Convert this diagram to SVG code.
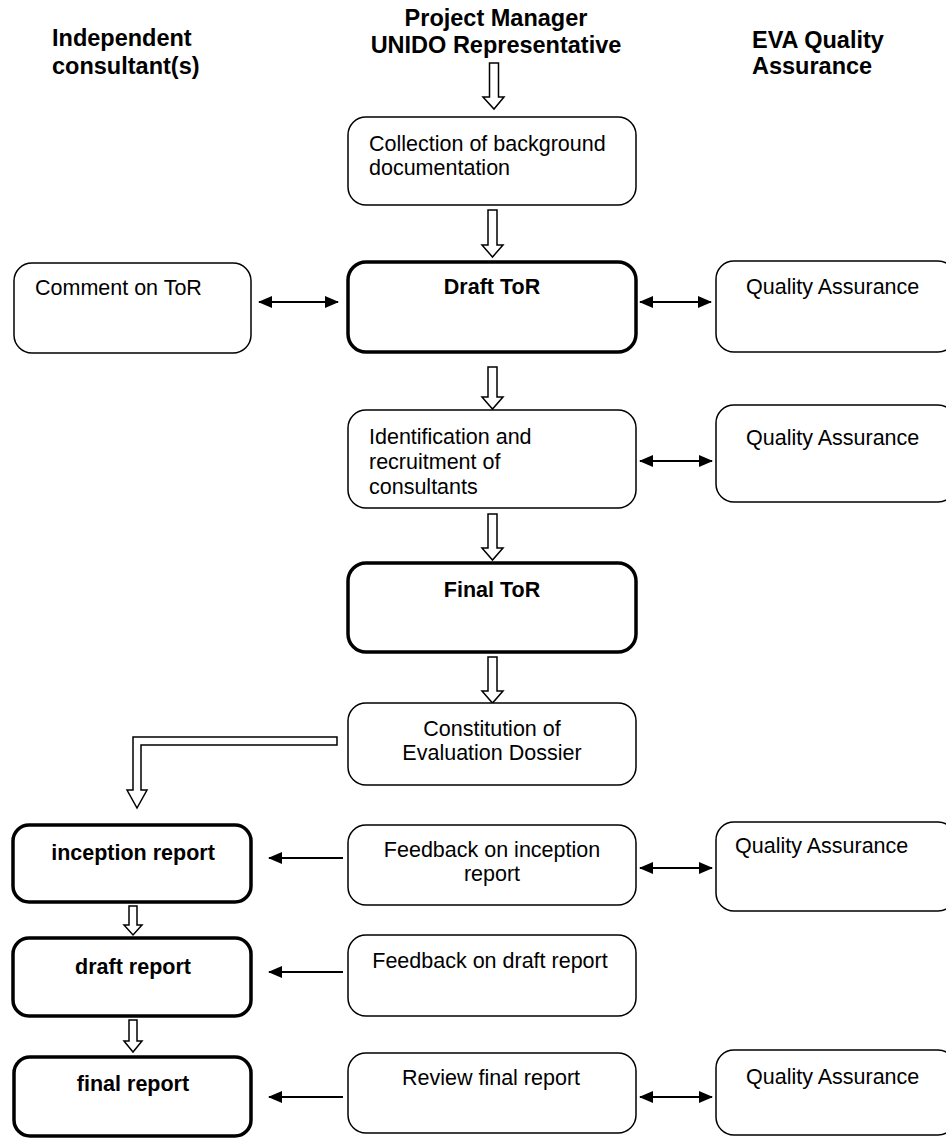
<svg xmlns="http://www.w3.org/2000/svg" width="946" height="1138" viewBox="0 0 946 1138">
<defs>
<style>
text{font-family:"Liberation Sans",Arial,sans-serif;fill:#000}
.h{font-size:23.5px;font-weight:bold}
.t{font-size:21.5px}
.b{font-size:21.5px;font-weight:bold}
.c{text-anchor:middle}
.box{fill:#fff;stroke:#000;stroke-width:1.5}
.thick{fill:#fff;stroke:#000;stroke-width:3.5}
.hol{fill:#fff;stroke:#000;stroke-width:1.5;stroke-linejoin:miter}
.ln{stroke:#000;stroke-width:2;fill:none}
</style>
<marker id="ah" viewBox="0 0 14 12" refX="13" refY="6" markerWidth="14" markerHeight="12" orient="auto-start-reverse" markerUnits="userSpaceOnUse">
<path d="M0,0 L14,6 L0,12 z" fill="#000"/>
</marker>
</defs>
<rect width="946" height="1138" fill="#fff"/>
<g id="headers">
<text class="h" x="52" y="46">Independent</text>
<text class="h" x="52" y="74">consultant(s)</text>
<text class="h c" x="496" y="26">Project Manager</text>
<text class="h c" x="496" y="53">UNIDO Representative</text>
<text class="h" x="752" y="48">EVA Quality</text>
<text class="h" x="752" y="74">Assurance</text>
</g>
<g id="connectors">
<polygon class="hol" points="489.5,63 498.5,63 498.5,97 504,97 494,109 483,97 489.5,97"/>
<polygon class="hol" points="488,210 497,210 497,245 503,245 492.5,257 482,245 488,245"/>
<polygon class="hol" points="488,367 497,367 497,397 503,397 492.5,409 482,397 488,397"/>
<polygon class="hol" points="488,514 497,514 497,548 503,548 492.5,560 482,548 488,548"/>
<polygon class="hol" points="488,657 497,657 497,691 503,691 492.5,703 482,691 488,691"/>
<polygon class="hol" points="337,737 337,745 141,745 141,790 147,790 137,808 127,790 133,790 133,737"/>
<polygon class="hol" points="129,906 137,906 137,925 142,925 133,935 124,925 129,925"/>
<polygon class="hol" points="129,1020 137,1020 137,1041 142,1041 133,1052 124,1041 129,1041"/>
<line class="ln" x1="259" y1="302" x2="338" y2="302" marker-start="url(#ah)" marker-end="url(#ah)"/>
<line class="ln" x1="640" y1="302" x2="711" y2="302" marker-start="url(#ah)" marker-end="url(#ah)"/>
<line class="ln" x1="640" y1="461" x2="712" y2="461" marker-start="url(#ah)" marker-end="url(#ah)"/>
<line class="ln" x1="640" y1="868" x2="712" y2="868" marker-start="url(#ah)" marker-end="url(#ah)"/>
<line class="ln" x1="640" y1="1097" x2="712" y2="1097" marker-start="url(#ah)" marker-end="url(#ah)"/>
<line class="ln" x1="343" y1="858" x2="269" y2="858" marker-end="url(#ah)"/>
<line class="ln" x1="343" y1="972" x2="269" y2="972" marker-end="url(#ah)"/>
<line class="ln" x1="343" y1="1097" x2="269" y2="1097" marker-end="url(#ah)"/>
</g>
<g id="collection">
<rect class="box" x="348" y="117" width="288" height="88" rx="18"/>
<text class="t" x="369" y="151">Collection of background</text>
<text class="t" x="369" y="175">documentation</text>
</g>
<g id="comment-tor">
<rect class="box" x="14" y="263" width="237" height="90" rx="18"/>
<text class="t" x="35" y="295">Comment on ToR</text>
</g>
<g id="draft-tor">
<rect class="thick" x="348" y="262" width="288" height="90" rx="18"/>
<text class="b c" x="492" y="294">Draft ToR</text>
</g>
<g id="qa1">
<rect class="box" x="716" y="261" width="240" height="91" rx="18"/>
<text class="t" x="746" y="294">Quality Assurance</text>
</g>
<g id="identification">
<rect class="box" x="348" y="410" width="288" height="98" rx="18"/>
<text class="t" x="369" y="444">Identification and</text>
<text class="t" x="369" y="469">recruitment of</text>
<text class="t" x="369" y="494">consultants</text>
</g>
<g id="qa2">
<rect class="box" x="716" y="405" width="240" height="97" rx="18"/>
<text class="t" x="746" y="445">Quality Assurance</text>
</g>
<g id="final-tor">
<rect class="thick" x="348" y="563" width="288" height="89" rx="18"/>
<text class="b c" x="492" y="597">Final ToR</text>
</g>
<g id="constitution">
<rect class="box" x="348" y="703" width="288" height="82" rx="18"/>
<text class="t c" x="492" y="736">Constitution of</text>
<text class="t c" x="492" y="760">Evaluation Dossier</text>
</g>
<g id="inception">
<rect class="thick" x="13" y="825" width="238" height="77" rx="16"/>
<text class="b c" x="133" y="860">inception report</text>
</g>
<g id="feedback-inception">
<rect class="box" x="348" y="825" width="288" height="80" rx="18"/>
<text class="t c" x="492" y="857">Feedback on inception</text>
<text class="t c" x="492" y="881">report</text>
</g>
<g id="qa3">
<rect class="box" x="716" y="822" width="240" height="89" rx="18"/>
<text class="t" x="735" y="853">Quality Assurance</text>
</g>
<g id="draft-report">
<rect class="thick" x="13" y="938" width="238" height="78" rx="16"/>
<text class="b c" x="133" y="974">draft report</text>
</g>
<g id="feedback-draft">
<rect class="box" x="348" y="935" width="288" height="81" rx="18"/>
<text class="t c" x="490" y="968">Feedback on draft report</text>
</g>
<g id="final-report">
<rect class="thick" x="14" y="1057" width="237" height="79" rx="16"/>
<text class="b c" x="133" y="1091">final report</text>
</g>
<g id="review-final">
<rect class="box" x="348" y="1053" width="288" height="80" rx="18"/>
<text class="t c" x="491" y="1085">Review final report</text>
</g>
<g id="qa4">
<rect class="box" x="716" y="1050" width="240" height="85" rx="18"/>
<text class="t" x="746" y="1084">Quality Assurance</text>
</g>
</svg>
